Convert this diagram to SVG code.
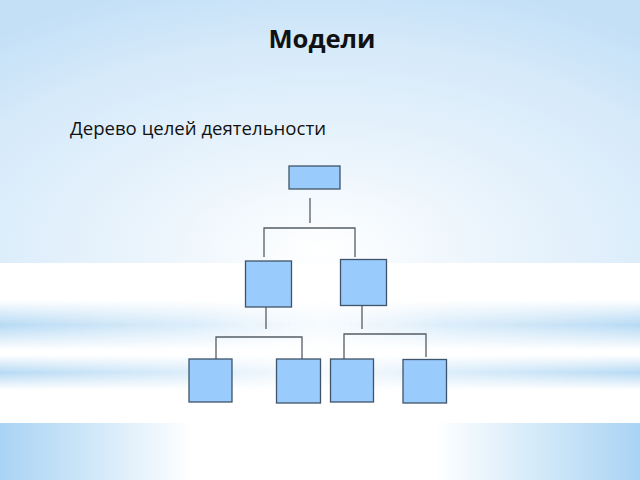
<svg xmlns="http://www.w3.org/2000/svg" width="640" height="480" viewBox="0 0 640 480">
<defs>
<radialGradient id="topbg" cx="0.5" cy="0.95" r="0.8" gradientTransform="translate(0.5 0.95) scale(1 1.3) translate(-0.5 -0.95)">
<stop offset="0" stop-color="#ffffff"/>
<stop offset="0.35" stop-color="#eaf4fc"/>
<stop offset="0.75" stop-color="#d6eafa"/>
<stop offset="1" stop-color="#c4e0f7"/>
</radialGradient>
<linearGradient id="hfade" x1="0" y1="0" x2="1" y2="0">
<stop offset="0" stop-color="#b7daf4" stop-opacity="1"/>
<stop offset="0.3" stop-color="#cbe5f8" stop-opacity="0.7"/>
<stop offset="0.5" stop-color="#e2f0fb" stop-opacity="0.3"/>
<stop offset="0.7" stop-color="#cbe5f8" stop-opacity="0.7"/>
<stop offset="1" stop-color="#b7daf4" stop-opacity="1"/>
</linearGradient>
<linearGradient id="botfade" x1="0" y1="0" x2="1" y2="0">
<stop offset="0" stop-color="#a9d3f4"/>
<stop offset="0.12" stop-color="#c9e4f8"/>
<stop offset="0.3" stop-color="#ffffff"/>
<stop offset="0.68" stop-color="#ffffff"/>
<stop offset="0.88" stop-color="#c9e4f8"/>
<stop offset="1" stop-color="#a9d3f4"/>
</linearGradient>
<linearGradient id="streak" x1="0" y1="0" x2="0" y2="1">
<stop offset="0" stop-color="#fff" stop-opacity="0"/>
<stop offset="0.5" stop-color="#fff" stop-opacity="1"/>
<stop offset="1" stop-color="#fff" stop-opacity="0"/>
</linearGradient>
<mask id="m1"><rect x="0" y="300" width="640" height="50" fill="url(#streak)"/></mask>
<mask id="m2"><rect x="0" y="355" width="640" height="35" fill="url(#streak)"/></mask>
</defs>
<style>
.box{fill:#99cbfd;stroke:#3f5468;stroke-width:1.3}
.con{fill:none;stroke:#555d66;stroke-width:1.3}
.t{font-family:"Open Sans","Noto Sans","DejaVu Sans",sans-serif;fill:#111}
</style>
<rect width="640" height="263" fill="url(#topbg)"/>
<rect x="0" y="263" width="640" height="160" fill="#ffffff"/>
<rect x="0" y="300" width="640" height="50" fill="url(#hfade)" mask="url(#m1)"/>
<rect x="0" y="355" width="640" height="35" fill="url(#hfade)" mask="url(#m2)"/>
<rect x="0" y="423" width="640" height="57" fill="url(#botfade)"/>

<text class="t" x="322" y="48" text-anchor="middle" font-size="25" font-weight="bold" textLength="107" lengthAdjust="spacingAndGlyphs">Модели</text>
<text class="t" x="70" y="135" font-size="19" textLength="256" lengthAdjust="spacingAndGlyphs">Дерево целей деятельности</text>

<g id="connectors">
<path class="con" d="M310 198V223"/>
<path class="con" d="M264 257V228H355V257"/>
<path class="con" d="M266 307V329"/>
<path class="con" d="M216 359V337H302V359"/>
<path class="con" d="M362 305V329"/>
<path class="con" d="M344 359V334H426V357"/>
</g>
<g id="root"><rect class="box" x="289" y="166" width="51" height="23"/></g>
<g id="mid-left"><rect class="box" x="245.5" y="261" width="46" height="46"/></g>
<g id="mid-right"><rect class="box" x="340.5" y="259.5" width="46" height="46"/></g>
<g id="leaf-1"><rect class="box" x="189" y="359" width="43" height="43"/></g>
<g id="leaf-2"><rect class="box" x="276.5" y="359" width="44" height="44"/></g>
<g id="leaf-3"><rect class="box" x="330.5" y="359" width="43" height="43"/></g>
<g id="leaf-4"><rect class="box" x="403" y="359.5" width="43.5" height="43.5"/></g>
</svg>
